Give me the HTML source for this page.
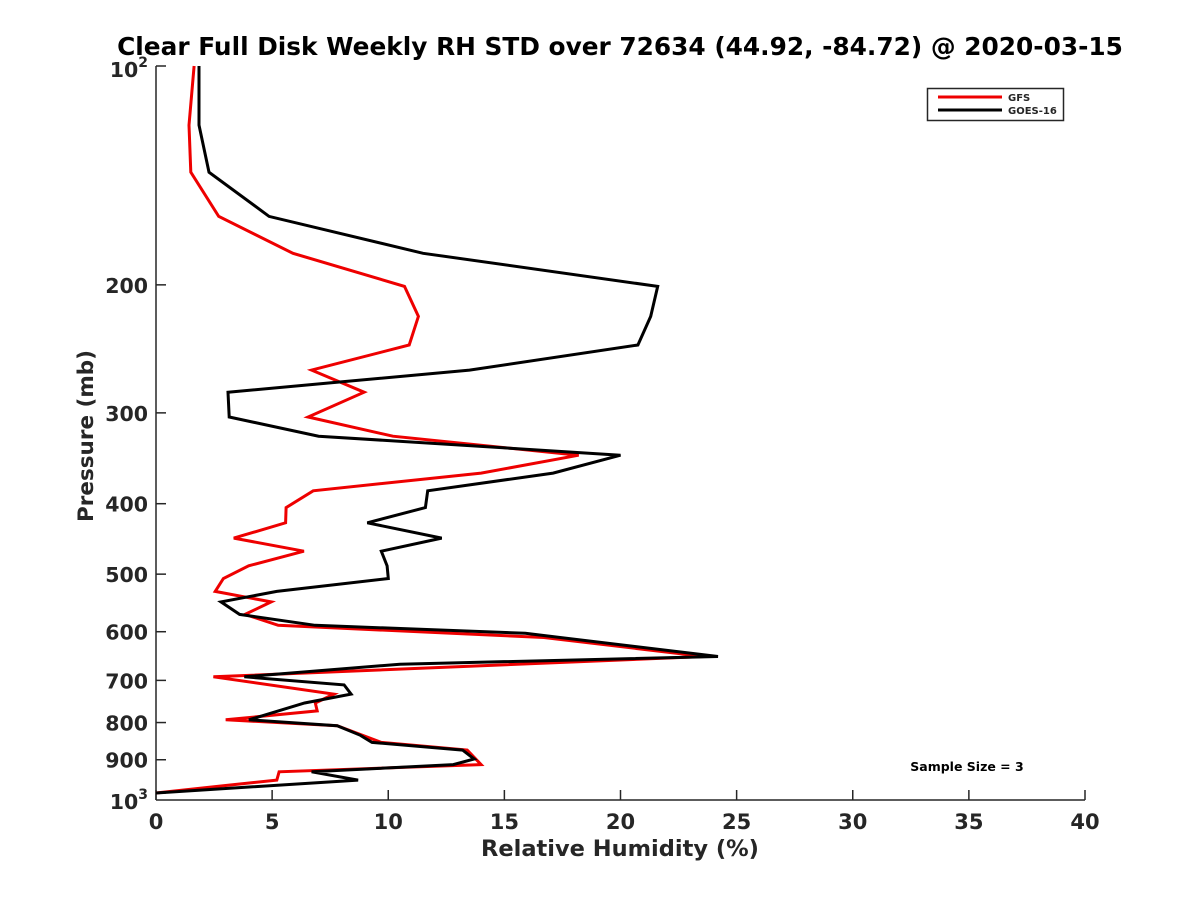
<!DOCTYPE html>
<html><head><meta charset="utf-8"><style>
body{margin:0;background:#fff;}
svg text{font-family:"DejaVu Sans","Liberation Sans",sans-serif;font-weight:bold;fill:#262626;}
</style></head><body>
<svg id="chart" width="1200" height="900" xmlns="http://www.w3.org/2000/svg">
<rect width="1200" height="900" fill="#fff"/>
<text x="620" y="55" font-size="24.8" text-anchor="middle" style="fill:#000">Clear Full Disk Weekly RH STD over 72634 (44.92, -84.72) @ 2020-03-15</text>
<g id="axes"></g>
<g id="series"></g>
<g>
<rect x="927.5" y="88.5" width="136" height="32" fill="#fff" stroke="#262626" stroke-width="1.5"/>
<line x1="938" y1="97" x2="1002" y2="97" stroke="#e00" stroke-width="3"/>
<text x="1008" y="101" font-size="10">GFS</text>
<line x1="938" y1="110" x2="1002" y2="110" stroke="#000" stroke-width="3"/>
<text x="1008" y="114" font-size="10">GOES-16</text>
</g>
<text x="967" y="771" font-size="12.5" text-anchor="middle" style="fill:#000">Sample Size = 3</text>
<text x="620" y="856" font-size="22.5" text-anchor="middle">Relative Humidity (%)</text>
<text transform="translate(93,436) rotate(-90)" font-size="21.5" text-anchor="middle">Pressure (mb)</text>
</svg>
<script>
const xTicks=[0,5,10,15,20,25,30,35,40];
const yTicks=[200,300,400,500,600,700,800,900];
const goesP=[100,120.6,140,161,181,201,221,242,262,281,304,323,343,363,384,405,425,446,465,487,507,528,546,568,588,603,649,665,692,710,731,752,793,808,833,852,873,898,914,935,960,1000];
const goesV=[1.85,1.85,2.28,4.87,11.5,21.6,21.3,20.75,13.5,3.1,3.15,7.0,20.0,17.1,11.7,11.6,9.1,12.3,9.7,9.95,10.0,5.2,2.8,3.6,6.85,15.9,24.2,10.5,3.8,8.1,8.4,6.4,4.0,7.8,8.8,9.3,13.2,13.7,12.8,6.7,8.7,0];
const gfsP=[100,120.6,140,161,181,201,221,242,262,281,304,323,343,363,384,405,425,446,465,487,507,528,546,568,588,611,649,692,731,752,771,793,808,852,873,914,935,960,975,1000];
const gfsV=[1.64,1.42,1.5,2.7,5.9,10.7,11.3,10.9,6.7,8.96,6.55,10.2,18.2,14.0,6.77,5.6,5.58,3.35,6.37,3.99,2.9,2.55,4.96,3.83,5.26,16.7,23.6,2.47,7.66,6.86,6.94,3.0,7.8,9.7,13.4,14.0,5.3,5.2,3.2,0];
const NS='http://www.w3.org/2000/svg';
const X0=156,X1=1085,Y0=66,Y1=793,YB=800;
const xs=v=>X0+(v-0)/(40-0)*(X1-X0);
const ys=p=>Y0+(Math.log10(p)-2)*(Y1-Y0);
function mk(tag,attrs,parent){const e=document.createElementNS(NS,tag);for(const k in attrs)e.setAttribute(k,attrs[k]);parent.appendChild(e);return e;}
const axes=document.getElementById('axes');
const yl=mk('line',{x1:X0,y1:Y0,x2:X0,y2:YB,stroke:'#262626','stroke-width':1.5},axes);


const xl=mk('line',{x1:X0,y1:YB,x2:X1,y2:YB,stroke:'#262626','stroke-width':1.5},axes);


xTicks.forEach(t=>{
  const x=xs(t);
  const tk=mk('line',{x1:x,y1:YB,x2:x,y2:YB-10,stroke:'#262626','stroke-width':1.5},axes);
  
  
  const tx=mk('text',{x:x,y:YB+29,'font-size':21,'text-anchor':'middle'},axes);
  tx.textContent=t;
  
  
});
const allY=[100].concat(yTicks).concat([1000]);
allY.forEach(p=>{
  const y=ys(p);
  const tk=mk('line',{x1:X0,y1:y,x2:X0+10,y2:y,stroke:'#262626','stroke-width':1.5},axes);
  
  
  const tx=mk('text',{x:X0-8,y:y+8,'font-size':20.5,'text-anchor':'end'},axes);
  if(p===100||p===1000){
    tx.textContent='10';
    const s=mk('tspan',{dy:-10,'font-size':14},tx);s.textContent=(p===100?'2':'3');
    tx.setAttribute('y',y+(p===1000?16:11));
  } else tx.textContent=p;
  
  
});
const ser=document.getElementById('series');
function line(P,V,color,name){
  const pts=P.map((p,i)=>xs(V[i]).toFixed(1)+','+ys(p).toFixed(1)).join(' ');
  const pl=mk('polyline',{points:pts,fill:'none',stroke:color,'stroke-width':3,'stroke-linejoin':'miter'},ser);
  
  
}
line(gfsP,gfsV,'#e00','gfs-line');
line(goesP,goesV,'#000','goes16-line');
</script>
</body></html>
